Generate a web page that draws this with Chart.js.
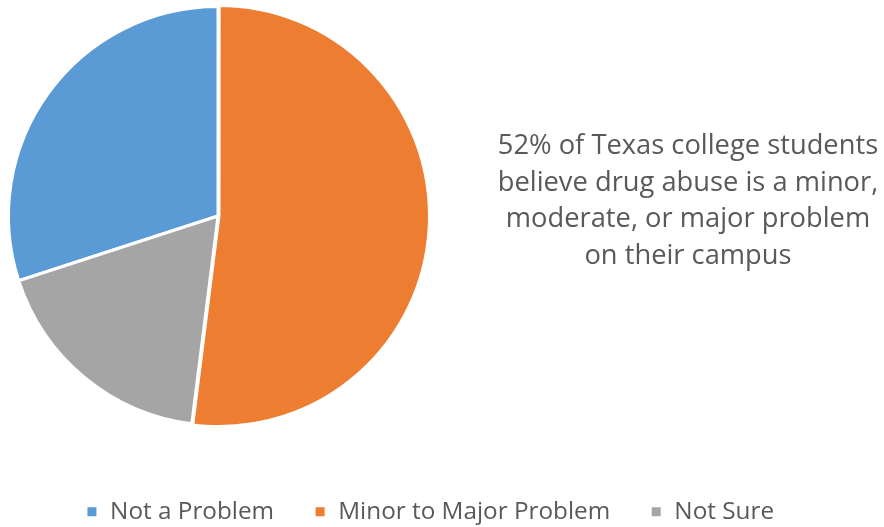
<!DOCTYPE html>
<html lang="en">
  <head>
    <meta charset="UTF-8" />
    <title>Drug abuse on campus</title>
    <style>
      body {
        margin: 0;
        background: #ffffff;
        font-family: "Open Sans", sans-serif;
      }
      #wrap {
        position: relative;
        width: 884px;
        height: 527px;
      }
      #nota {
        position: absolute;
        left: 438px;
        top: 126px;
        width: 500px;
        text-align: center;
        font-size: 27.3px;
        line-height: 36.5px;
        color: #595959;
      }
    </style>
  </head>
  <body>
    <div id="wrap">
      <canvas id="grafico" width="884" height="527"></canvas>
      <div id="nota">
        52% of Texas college students<br />
        believe drug abuse is a minor,<br />
        moderate, or major problem<br />
        on their campus
      </div>
    </div>

    <script src="https://cdn.jsdelivr.net/npm/chart.js"></script>
    <script>
      const categorias = ["Not a Problem", "Minor to Major Problem", "Not Sure"];
      const valores = [30, 52, 18];
      const colores = ["#5B9BD5", "#ED7D31", "#A5A5A5"];
      const desplazamiento = [0, 4, 0];

      // the pie sits on the left, not centred in the canvas
      const areaPie = {
        id: "areaPie",
        afterLayout(chart) {
          chart.chartArea = {
            left: 5, top: 3, right: 431, bottom: 429,
            width: 426, height: 426,
          };
          chart.legend.top += 7;
          chart.legend.bottom += 7;
          chart.legend.left -= 12;
          chart.legend.right -= 12;
        },
      };

      const ctx = document.getElementById("grafico").getContext("2d");
      new Chart(ctx, {
        type: "pie",
        data: {
          labels: categorias,
          datasets: [
            {
              data: valores,
              backgroundColor: colores,
              borderColor: "#ffffff",
              borderWidth: 3,
              offset: desplazamiento,
            },
          ],
        },
        options: {
          responsive: false,
          animation: false,
          rotation: 252,
          plugins: {
            tooltip: { enabled: false },
            legend: {
              position: "bottom",
              labels: {
                boxWidth: 12,
                boxHeight: 12,
                padding: 40,
                color: "#595959",
                font: { family: "Open Sans", size: 24.3 },
              },
            },
          },
        },
        plugins: [areaPie],
      });
    </script>
  </body>
</html>
